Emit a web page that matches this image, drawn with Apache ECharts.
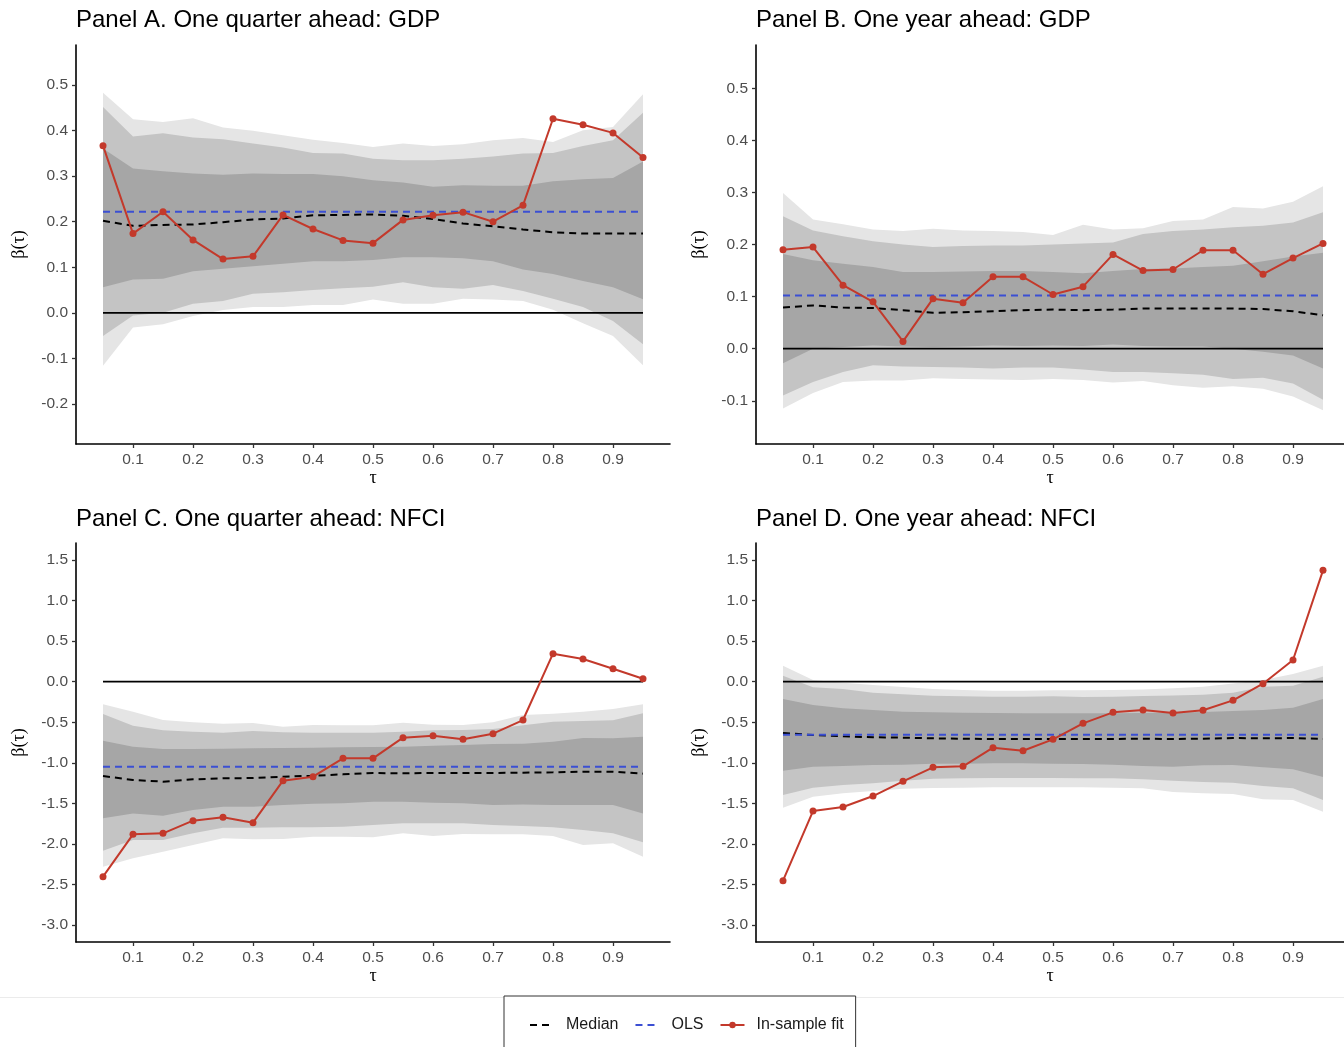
<!DOCTYPE html>
<html>
<head>
<meta charset="utf-8">
<title>Quantile regression coefficients</title>
<script src="https://cdn.jsdelivr.net/npm/echarts@6/dist/echarts.min.js"></script>
<style>
  html, body { margin: 0; padding: 0; background: #ffffff; }
  #chart { width: 1344px; height: 1047px; }
</style>
</head>
<body>
<div id="chart"></div>
<script>
// Quantile levels
const tau = [0.05, 0.10, 0.15, 0.20, 0.25, 0.30, 0.35, 0.40, 0.45, 0.50,
             0.55, 0.60, 0.65, 0.70, 0.75, 0.80, 0.85, 0.90, 0.95];
const xTicks = [0.1, 0.2, 0.3, 0.4, 0.5, 0.6, 0.7, 0.8, 0.9];
const yTicksA = [-0.2, -0.1, 0.0, 0.1, 0.2, 0.3, 0.4, 0.5];
const yTicksB = [-0.1, 0.0, 0.1, 0.2, 0.3, 0.4, 0.5];
const yTicksNFCI = [-3.0, -2.5, -2.0, -1.5, -1.0, -0.5, 0.0, 0.5, 1.0, 1.5];

// Panel A: one quarter ahead, GDP
const aFit = [0.367, 0.174, 0.222, 0.160, 0.118, 0.124, 0.215, 0.184, 0.159, 0.153, 0.204, 0.214, 0.221, 0.200, 0.236, 0.426, 0.413, 0.395, 0.341];
const aMedian = [0.202, 0.191, 0.193, 0.194, 0.199, 0.205, 0.207, 0.214, 0.215, 0.216, 0.213, 0.206, 0.196, 0.190, 0.183, 0.177, 0.174, 0.174, 0.174];
const aOLS = 0.222;
const aOuterHi = [0.483, 0.425, 0.419, 0.427, 0.407, 0.400, 0.390, 0.380, 0.373, 0.364, 0.372, 0.366, 0.370, 0.379, 0.384, 0.375, 0.401, 0.408, 0.480];
const aMiddleHi = [0.452, 0.387, 0.394, 0.385, 0.381, 0.372, 0.363, 0.351, 0.350, 0.338, 0.335, 0.335, 0.338, 0.343, 0.350, 0.351, 0.366, 0.379, 0.439];
const aInnerHi = [0.361, 0.317, 0.311, 0.306, 0.303, 0.306, 0.305, 0.305, 0.300, 0.291, 0.286, 0.277, 0.280, 0.279, 0.279, 0.289, 0.293, 0.296, 0.332];
const aInnerLo = [0.056, 0.073, 0.075, 0.091, 0.097, 0.102, 0.108, 0.113, 0.113, 0.116, 0.122, 0.122, 0.120, 0.113, 0.095, 0.085, 0.070, 0.056, 0.030];
const aMiddleLo = [-0.051, -0.006, 0.000, 0.020, 0.026, 0.042, 0.045, 0.050, 0.054, 0.057, 0.067, 0.056, 0.053, 0.061, 0.048, 0.031, 0.013, -0.018, -0.069];
const aOuterLo = [-0.116, -0.032, -0.025, -0.007, 0.006, 0.013, 0.013, 0.017, 0.017, 0.029, 0.020, 0.020, 0.031, 0.029, 0.026, 0.007, -0.023, -0.051, -0.115];

// Panel B: one year ahead, GDP
const bFit = [0.190, 0.195, 0.122, 0.090, 0.014, 0.096, 0.088, 0.138, 0.138, 0.104, 0.119, 0.181, 0.150, 0.152, 0.189, 0.189, 0.143, 0.174, 0.202];
const bMedian = [0.079, 0.083, 0.079, 0.078, 0.074, 0.069, 0.070, 0.072, 0.074, 0.075, 0.074, 0.075, 0.077, 0.077, 0.077, 0.077, 0.076, 0.072, 0.064];
const bOLS = 0.102;
const bOuterHi = [0.299, 0.248, 0.239, 0.229, 0.226, 0.230, 0.227, 0.226, 0.224, 0.218, 0.238, 0.229, 0.231, 0.245, 0.248, 0.272, 0.269, 0.282, 0.312];
const bMiddleHi = [0.254, 0.227, 0.216, 0.206, 0.200, 0.195, 0.197, 0.198, 0.198, 0.200, 0.202, 0.204, 0.220, 0.226, 0.229, 0.233, 0.236, 0.242, 0.262];
const bInnerHi = [0.182, 0.170, 0.163, 0.157, 0.147, 0.147, 0.148, 0.149, 0.149, 0.147, 0.145, 0.149, 0.153, 0.154, 0.157, 0.159, 0.168, 0.177, 0.184];
const bInnerLo = [-0.028, 0.000, 0.003, 0.006, 0.004, 0.003, 0.004, 0.006, 0.005, 0.006, 0.005, 0.008, 0.005, 0.004, 0.004, 0.000, -0.006, -0.013, -0.038];
const bMiddleLo = [-0.090, -0.064, -0.045, -0.032, -0.034, -0.035, -0.036, -0.038, -0.036, -0.036, -0.040, -0.045, -0.045, -0.047, -0.050, -0.058, -0.056, -0.067, -0.098];
const bOuterLo = [-0.115, -0.085, -0.064, -0.061, -0.061, -0.057, -0.058, -0.059, -0.060, -0.058, -0.060, -0.065, -0.062, -0.070, -0.075, -0.072, -0.077, -0.092, -0.118];

// Panel C: one quarter ahead, NFCI
const cFit = [-2.404, -1.882, -1.870, -1.714, -1.673, -1.739, -1.221, -1.171, -0.945, -0.945, -0.690, -0.666, -0.711, -0.641, -0.473, 0.345, 0.279, 0.160, 0.037];
const cMedian = [-1.163, -1.212, -1.233, -1.204, -1.192, -1.188, -1.171, -1.159, -1.143, -1.126, -1.130, -1.126, -1.126, -1.126, -1.122, -1.118, -1.110, -1.110, -1.134];
const cOLS = -1.048;
const cOuterHi = [-0.279, -0.370, -0.473, -0.501, -0.518, -0.510, -0.555, -0.534, -0.538, -0.538, -0.506, -0.530, -0.534, -0.501, -0.411, -0.395, -0.370, -0.337, -0.279];
const cMiddleHi = [-0.399, -0.543, -0.600, -0.617, -0.629, -0.608, -0.625, -0.629, -0.629, -0.629, -0.617, -0.600, -0.596, -0.584, -0.538, -0.493, -0.485, -0.477, -0.390];
const cInnerHi = [-0.727, -0.801, -0.830, -0.830, -0.826, -0.822, -0.818, -0.814, -0.810, -0.806, -0.801, -0.789, -0.781, -0.769, -0.765, -0.740, -0.695, -0.699, -0.678];
const cInnerLo = [-1.685, -1.624, -1.652, -1.582, -1.541, -1.541, -1.521, -1.504, -1.500, -1.480, -1.480, -1.492, -1.500, -1.521, -1.513, -1.521, -1.521, -1.521, -1.624];
const cMiddleLo = [-2.084, -1.952, -1.952, -1.870, -1.800, -1.800, -1.796, -1.796, -1.788, -1.767, -1.747, -1.747, -1.747, -1.767, -1.780, -1.796, -1.829, -1.870, -1.981];
const cOuterLo = [-2.281, -2.178, -2.096, -2.014, -1.932, -1.944, -1.940, -1.911, -1.911, -1.919, -1.870, -1.903, -1.878, -1.882, -1.882, -1.903, -2.014, -1.993, -2.158];

// Panel D: one year ahead, NFCI
const dFit = [-2.454, -1.595, -1.545, -1.410, -1.229, -1.056, -1.044, -0.814, -0.851, -0.711, -0.514, -0.378, -0.349, -0.386, -0.353, -0.230, -0.025, 0.267, 1.373];
const dMedian = [-0.633, -0.658, -0.674, -0.686, -0.690, -0.699, -0.703, -0.707, -0.707, -0.707, -0.707, -0.707, -0.703, -0.707, -0.703, -0.695, -0.699, -0.695, -0.707];
const dOLS = -0.653;
const dOuterHi = [0.197, 0.021, -0.012, -0.041, -0.066, -0.090, -0.103, -0.111, -0.111, -0.107, -0.107, -0.103, -0.095, -0.082, -0.062, -0.021, 0.021, 0.095, 0.197];
const dMiddleHi = [0.074, -0.070, -0.090, -0.136, -0.156, -0.173, -0.181, -0.185, -0.185, -0.181, -0.189, -0.185, -0.177, -0.169, -0.160, -0.136, -0.062, -0.049, 0.062];
const dInnerHi = [-0.214, -0.288, -0.329, -0.349, -0.370, -0.378, -0.382, -0.386, -0.390, -0.390, -0.390, -0.390, -0.386, -0.382, -0.374, -0.362, -0.349, -0.321, -0.214];
const dInnerLo = [-1.097, -1.048, -1.040, -1.028, -1.023, -1.011, -1.011, -1.007, -1.007, -1.011, -1.015, -1.023, -1.040, -1.048, -1.032, -1.028, -1.056, -1.081, -1.176];
const dMiddleLo = [-1.397, -1.307, -1.274, -1.254, -1.221, -1.196, -1.192, -1.188, -1.188, -1.188, -1.192, -1.192, -1.204, -1.221, -1.237, -1.245, -1.286, -1.315, -1.459];
const dOuterLo = [-1.554, -1.418, -1.377, -1.348, -1.319, -1.311, -1.307, -1.303, -1.303, -1.303, -1.303, -1.307, -1.315, -1.360, -1.377, -1.385, -1.451, -1.459, -1.603];

const panelTitles = [
  'Panel A. One quarter ahead: GDP',
  'Panel B. One year ahead: GDP',
  'Panel C. One quarter ahead: NFCI',
  'Panel D. One year ahead: NFCI'
];

const FONT = "'Liberation Sans', Arial, Helvetica, sans-serif";
const SERIF = "'Liberation Serif', 'DejaVu Serif', serif";
const COL_OUTER = '#e5e5e5';
const COL_MIDDLE = '#c4c4c4';
const COL_INNER = '#a6a6a6';
const COL_FIT = '#c3392b';
const COL_OLS = '#3b4fd3';
const DASH = [7, 5];

// layout of the four plotting areas (pixels); the right-hand panels run
// up to the page edge, so their x range stops a little short of 0.995
const panels = [
  { left: 76,  top: 45,  width: 594, xMax: 0.995, titleTop: 8,   yMin: -0.288, yMax: 0.588, ticks: yTicksA,
    fit: aFit, median: aMedian, ols: aOLS,
    bands: [[aOuterLo, aOuterHi, COL_OUTER], [aMiddleLo, aMiddleHi, COL_MIDDLE], [aInnerLo, aInnerHi, COL_INNER]] },
  { left: 756, top: 45,  width: 588, xMax: 0.985, titleTop: 8,   yMin: -0.183, yMax: 0.583, ticks: yTicksB,
    fit: bFit, median: bMedian, ols: bOLS,
    bands: [[bOuterLo, bOuterHi, COL_OUTER], [bMiddleLo, bMiddleHi, COL_MIDDLE], [bInnerLo, bInnerHi, COL_INNER]] },
  { left: 76,  top: 543, width: 594, xMax: 0.995, titleTop: 507, yMin: -3.21, yMax: 1.71, ticks: yTicksNFCI,
    fit: cFit, median: cMedian, ols: cOLS,
    bands: [[cOuterLo, cOuterHi, COL_OUTER], [cMiddleLo, cMiddleHi, COL_MIDDLE], [cInnerLo, cInnerHi, COL_INNER]] },
  { left: 756, top: 543, width: 588, xMax: 0.985, titleTop: 507, yMin: -3.21, yMax: 1.71, ticks: yTicksNFCI,
    fit: dFit, median: dMedian, ols: dOLS,
    bands: [[dOuterLo, dOuterHi, COL_OUTER], [dMiddleLo, dMiddleHi, COL_MIDDLE], [dInnerLo, dInnerHi, COL_INNER]] }
];

const grids = [], xAxes = [], yAxes = [], titles = [], series = [];

panels.forEach((p, k) => {
  grids.push({ left: p.left, top: p.top, width: p.width, height: 399, containLabel: false });
  titles.push({
    text: panelTitles[k], left: p.left, top: p.titleTop, padding: 0,
    textStyle: { fontFamily: FONT, fontSize: 24, fontWeight: 'normal', color: '#000' }
  });
  xAxes.push({
    type: 'value', gridIndex: k, min: 0.005, max: p.xMax,
    name: 'τ', nameLocation: 'middle', nameGap: 24,
    nameTextStyle: { fontFamily: SERIF, fontSize: 18, color: '#000' },
    axisLine: { show: true, onZero: false, lineStyle: { color: '#000', width: 1.6 } },
    axisTick: { show: true, length: 4, customValues: xTicks, lineStyle: { color: '#333', width: 1.3 } },
    axisLabel: { customValues: xTicks, margin: 8, fontFamily: FONT, fontSize: 15.5, color: '#4d4d4d',
                 formatter: v => v.toFixed(1) },
    splitLine: { show: false }
  });
  yAxes.push({
    type: 'value', gridIndex: k, min: p.yMin, max: p.yMax,
    name: 'β(τ)', nameLocation: 'middle', nameGap: 48, nameRotate: 90,
    nameTextStyle: { fontFamily: SERIF, fontSize: 18, color: '#000' },
    axisLine: { show: true, onZero: false, lineStyle: { color: '#000', width: 1.6 } },
    axisTick: { show: true, length: 4, customValues: p.ticks, lineStyle: { color: '#333', width: 1.3 } },
    axisLabel: { customValues: p.ticks, margin: 8, fontFamily: FONT, fontSize: 15.5, color: '#4d4d4d',
                 formatter: v => v.toFixed(1) },
    splitLine: { show: false }
  });

  // shaded coefficient bands, widest first
  p.bands.forEach(([lo, hi, color]) => {
    series.push({
      type: 'custom', name: 'band', xAxisIndex: k, yAxisIndex: k, silent: true, z: 1,
      data: [[tau[0], lo[0]]],
      renderItem: (params, api) => {
        const pts = [];
        for (let i = 0; i < tau.length; i++) pts.push(api.coord([tau[i], hi[i]]));
        for (let i = tau.length - 1; i >= 0; i--) pts.push(api.coord([tau[i], lo[i]]));
        return { type: 'polygon', shape: { points: pts }, style: { fill: color } };
      }
    });
  });

  series.push({
    type: 'line', name: 'zero', xAxisIndex: k, yAxisIndex: k, z: 3, silent: true,
    symbol: 'none', data: tau.map(t => [t, 0]),
    lineStyle: { color: '#000', width: 1.8 }
  });
  series.push({
    type: 'line', name: 'Median', xAxisIndex: k, yAxisIndex: k, z: 4, silent: true,
    symbol: 'none', data: tau.map((t, i) => [t, p.median[i]]),
    itemStyle: { color: '#000' },
    lineStyle: { color: '#000', width: 2, type: DASH }
  });
  series.push({
    type: 'line', name: 'OLS', xAxisIndex: k, yAxisIndex: k, z: 5, silent: true,
    symbol: 'none', data: tau.map(t => [t, p.ols]),
    itemStyle: { color: COL_OLS },
    lineStyle: { color: COL_OLS, width: 2, type: DASH }
  });
  series.push({
    type: 'line', name: 'In-sample fit', xAxisIndex: k, yAxisIndex: k, z: 6, silent: true,
    symbol: 'circle', symbolSize: 7, data: tau.map((t, i) => [t, p.fit[i]]),
    itemStyle: { color: COL_FIT },
    lineStyle: { color: COL_FIT, width: 2 }
  });
});

const chart = echarts.init(document.getElementById('chart'), null, { renderer: 'canvas' });
chart.setOption({
  backgroundColor: '#ffffff',
  animation: false,
  title: titles,
  grid: grids,
  xAxis: xAxes,
  yAxis: yAxes,
  legend: {
    data: [
      { name: 'Median', itemStyle: { opacity: 0 } },
      { name: 'OLS', itemStyle: { opacity: 0 } },
      { name: 'In-sample fit' }
    ],
    selectedMode: false,
    left: 504, top: 996,
    padding: [21, 12, 30, 25],
    itemGap: 16, itemWidth: 24, itemHeight: 8,
    borderColor: '#333', borderWidth: 1, borderRadius: 0,
    backgroundColor: '#ffffff',
    textStyle: { fontFamily: FONT, fontSize: 16, color: '#1a1a1a', padding: [0, 0, 0, 7] }
  },
  graphic: [{
    type: 'line', silent: true, z: -1,
    shape: { x1: 0, y1: 997.5, x2: 1344, y2: 997.5 },
    style: { stroke: '#ebebeb', lineWidth: 1 }
  }],
  series: series
});
</script>
</body>
</html>
